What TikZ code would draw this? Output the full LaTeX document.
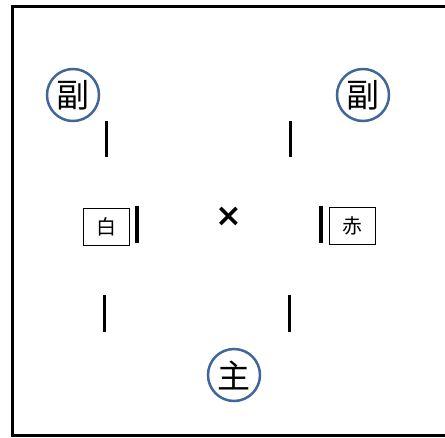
\documentclass[tikz,border=0pt]{standalone}
\usepackage{fontspec}
\newfontfamily\cjk{Noto Sans CJK SC}
\newfontfamily\djv{DejaVu Sans}
\definecolor{ringblue}{HTML}{41679A}
\tikzset{
  ring/.style={circle, draw=ringblue, line width=2.5pt, minimum size=52pt, inner sep=0pt, font=\cjk\fontsize{33}{33}\selectfont},
  tag/.style={rectangle, draw=black, line width=1.2pt, minimum width=46pt, minimum height=37pt, inner sep=0pt, font=\cjk\fontsize{20}{20}\selectfont},
  bar/.style={line width=3pt, black},
  frame/.style={line width=3pt, black}
}
\begin{document}
\begin{tikzpicture}[x=1pt,y=-1pt]
\useasboundingbox (0,0) rectangle (445,437);
\draw[frame] (450,6) -- (12,6) -- (12,435) -- (450,435);
\node[ring] (fl) at (73,95) {副};
\node[ring] (fr) at (363,95) {副};
\node[ring] (zhu) at (234,375) {主};
\node[tag] (bai) at (106.5,227) {白};
\node[tag] (chi) at (352.5,226) {赤};
\node[font=\djv\bfseries\fontsize{32}{32}\selectfont, inner sep=0pt] (x) at (229,217) {×};
\draw[bar] (106,121) -- (106,157);
\draw[bar] (290,121) -- (290,157);
\draw[bar] (104,295) -- (104,332);
\draw[bar] (289,295) -- (289,332);
\draw[line width=3.5pt] (137,206) -- (137,243);
\draw[line width=3.5pt] (321,206) -- (321,243);
\end{tikzpicture}
\end{document}
